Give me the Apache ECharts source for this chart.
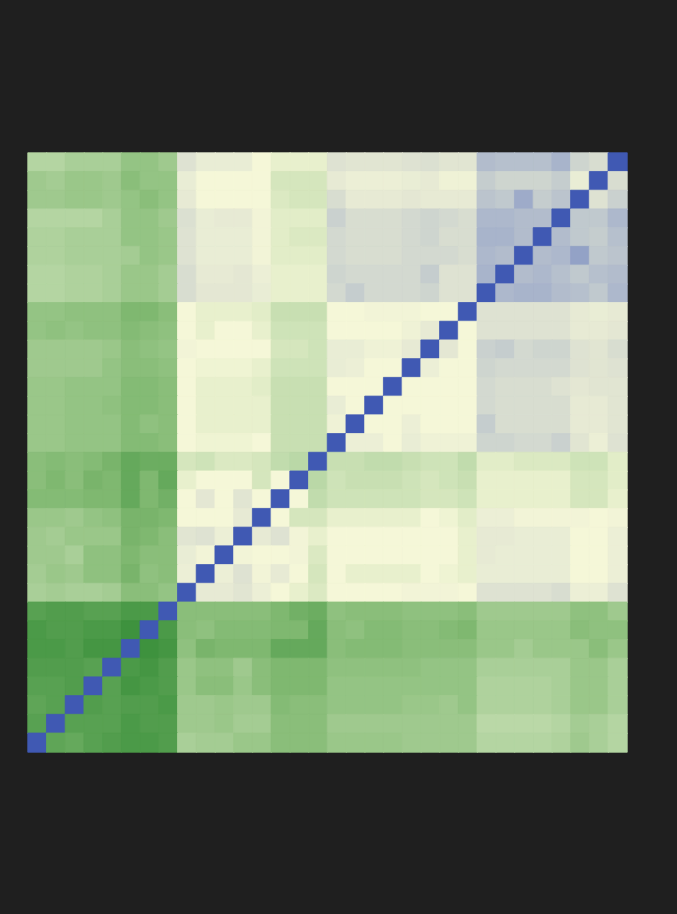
<!DOCTYPE html>
<html>
<head>
<meta charset="utf-8">
<script src="https://cdn.jsdelivr.net/npm/echarts@6/dist/echarts.min.js"></script>
<style>
html,body{margin:0;padding:0;background:#1f1f1f;}
#chart{width:677px;height:914px;}
</style>
</head>
<body>
<div id="chart"></div>
<script>
// Column / row categories (no labels shown in the chart)
var xLabels = ['1','2','3','4','5','6','7','8','9','10','11','12','13','14','15','16','17','18','19','20','21','22','23','24','25','26','27','28','29','30','31','32'];
var yLabels = ['1','2','3','4','5','6','7','8','9','10','11','12','13','14','15','16','17','18','19','20','21','22','23','24','25','26','27','28','29','30','31','32'];

// Matrix rows, listed from the top row of the picture to the bottom row
var rows = [
 [10,10,9,9,9,7,7,8,19,17,17,17,15,14,14,14, 19,18.5,18.5,18.5,19,19.5,18.5,18.5,24,23.5,23.5,23.5,25,21,20,30],
 [8,8.5,7.5,7.5,8,6,7,7,17,15,15,15,15,12.5,12.5,12.5, 17.5,16.5,16.5,16.5,17,17.5,16,16,22,21,21,21,22,17,30,20],
 [8,8,7.5,7.5,8,7,6,7,17.5,15,15,15,15,13,12.5,12.5, 20,17.5,17.5,17.5,18,17.5,17.5,17.5,23,22.5,25.5,22,23,30,19,21.5],
 [10,10,10,10,9,7,7,8,19.5,17,17.5,17.5,15.5,13.5,13.5,13.5, 21.5,20,20,20,20.5,21,20.5,20,24.5,24.5,24,24,30,22.5,22.5,24.5],
 [9.5,9.5,9,9,9,7,7,7.5,19,17,17,17,15.5,13.5,13,13, 20.5,20,20,20,20.5,21,20,20,25,25,24,30,24,22.5,22,23.5],
 [9.5,9.5,9,9,9,8.5,7,7.5,19,17,17,17,15.5,13.5,13.5,13.5, 20.5,20,20,20,20.5,20.5,20.5,20,24.5,24,30,24,24.5,26,22.5,23],
 [10,10,9.5,9.5,9,7.5,7.5,8.5,20,17.5,17.5,18,16.5,14,14,14, 21,20.5,20.5,20.5,20.5,22,19,19,25,30,24,24.5,23.5,22.5,23.5,24],
 [10,10,9.5,9.5,9,7.5,7.5,8.5,20,18,18,18,17,14,14,14, 20.5,22,20.5,20.5,20.5,21,19,19,30,24.5,25,25,24,23.5,22.5,24.5],
 [7,7,6.5,6.5,6.5,5,5,6,15,14,14,14,13.5,11.5,11.5,11.5, 15,15,15.5,15.5,15.5,15,15,30,19,19,19,19,19,17.5,17,17.5],
 [7,6.5,7,6.5,6.5,5.5,6,6.5,15,14,15,15,14,12,12,12, 15,15,15,15,16,17.5,30,15,19,19,19,19,19,17.5,17.5,18],
 [8,8,8,8,7.5,6,6.5,7,15.5,15,15,15,15,12.5,12.5,12, 17,17,16,16,17.5,30,18,15,21.5,22,20.5,21,21,19,18.5,20],
 [8,8,8,8,7,6,6,6.5,15,14.5,14.5,14.5,14,12,12,12, 17,16.5,15,15,30,16.5,15,15,21,20.5,20.5,20.5,20.5,19,18.5,19],
 [7.5,7.5,7,7,7,5.5,5.5,6,15,14,14,14,13.5,11.5,11.5,11.5, 15,15,15,30,15,15,15,15,20.5,20,20,20,19,18,18.5,18.5],
 [7.5,7.5,7,7,6.5,5.5,5.5,6,15,14,14,14,14,11.5,11.5,11.5, 17,15,30,15,15,15,15,15,20.5,20,20,20,20,17.5,17.5,18.5],
 [7.5,7.5,7,7,7,5.5,6.5,6,15,14,14,14,14,11.5,11.5,11.5, 16,30,15,15,16.5,15,15,15,22,20,20,20,20,17.5,17.5,18.5],
 [7.5,7.5,7,7,7,5.5,5.5,6,15,14.5,14.5,14.5,15,11.5,11.5,11.5, 30,16.5,16.5,15,17,16,16,16,21,21,20.5,20.5,21.5,18.5,16.5,19],
 [6,5.5,6,5.5,4.5,3,3.5,3.5,12.5,12,13,13,12.5,11,10.5,30, 11.5,11.5,11,11,11.5,12,12,11,13.5,13.5,13,13,13,12,12,13.5],
 [6,5,6,4.5,5,3,5,3,14,15,15,15,12.5,15,30,10.5, 12,11.5,11.5,11.5,12,12.5,12,11.5,14,14,14,14,14,12.5,12.5,13.5],
 [5.5,5.5,5.5,5,5,3,5,4,15,18,15,18.5,15,30,15,11, 12,12,12,12,12,12.5,12.5,12,14,14,14,14,14,12.5,12.5,14],
 [7.5,7.5,8,7,6.5,4.5,4.5,5,15,15,15,17.5,30,15,12.5,12.5, 14,14,14,14,14,15,14.5,13.5,16.5,16.5,15.5,15.5,15.5,15.5,15,15.5],
 [8,8.5,7.5,7.5,7.5,4.5,5,6,18.5,19,16.5,30,17.5,19,15.5,14, 15,15,15,15,15,15,15,14,17.5,17.5,17,17,17,15,15,16.5],
 [8,8,9,6.5,6.5,5,6,6,17,15.5,30,15.5,15,15,15.5,13, 15,15,15,15,15,15,15,14,17.5,17,17,17,17,15,15,16.5],
 [8.5,7.5,8,6.5,6.5,4.5,6.5,6,16.5,30,16.5,19,15.5,17.5,15,12.5, 15,14,14,14,14,15,14.5,14,17,17,17,17,17,15,15,16.5],
 [9,8.5,9,9,8.5,6,6,7,30,17.5,17.5,18.5,16.5,15,14,13, 15,15,15,15,15.5,15.5,15.5,15,19,19,19,19,20,16.5,16.5,19],
 [2,1.5,1.5,2,2,1,1,30,6,6,6,6,6,5,4,3.5, 6.5,6,6,6,6.5,6.5,6.5,6,8,8,8,8,8,6.5,6.5,8],
 [1,1.5,1.5,1,1,0,30,1,6,6.5,5.5,5.5,5.5,5,5,3, 6,6.5,5.5,5.5,6,6,5.5,5,7.5,7.5,7.5,7.5,7.5,6,6.5,6.5],
 [1,1,1.5,0.5,0.5,30,0,0.5,6.5,4.5,5,5,5,3,3,3, 6,5.5,5.5,5.5,6,6,6,6,7.5,7.5,8.5,7.5,7.5,7.5,6,7.5],
 [1.5,1.5,1.5,2,30,1,0.5,1.5,7.5,6.5,6.5,8,6,5,5,5, 6.5,6.5,6.5,6.5,6.5,7,7,7,9,9,9,9,9,7.5,7.5,9],
 [2,2,1.5,30,2,0.5,1,1.5,7.5,6,6,7.5,6,5,5,5, 7,7,7,7,7,7,7,7,9.5,9.5,9.5,9.5,9,7.5,7.5,9],
 [2.5,2,30,1.5,2,1.5,1.5,1,8,8,7.5,8,8,5.5,6,6, 7,7,7,7,7.5,7.5,8,7,9.5,9.5,9.5,9.5,9,7.5,7.5,9],
 [2,30,2,2,2,1,1.5,1.5,8,8,7.5,8.5,8.5,6,6,6, 8,8,8,8,8,8,8,8,10.5,10.5,10.5,10.5,10,8.5,9,10],
 [30,2.5,3,2,1.5,1,1,1.5,9,8.5,8.5,7.5,7.5,6,6,6, 7.5,7.5,7.5,7.5,8,8,8,8,10,10,10,10,9.5,8,9,10]
];

var valueMin = 0, valueMax = 30;
var palette = ['#3e923e', '#7fb870', '#b4d5a2', '#f5f7d8', '#d8ddd0', '#a8b4cb', '#4059b3'];

function colorOf(v) {
  return echarts.color.lerp((v - valueMin) / (valueMax - valueMin), palette);
}

var data = [];
for (var r = 0; r < rows.length; r++) {
  for (var c = 0; c < rows[r].length; c++) {
    var col = colorOf(rows[r][c]);
    data.push({
      value: [c, rows.length - 1 - r, rows[r][c]],
      itemStyle: {color: col, borderColor: col, borderWidth: 0.8}
    });
  }
}

var chart = echarts.init(document.getElementById('chart'), null, {renderer: 'canvas'});
chart.setOption({
  backgroundColor: '#1f1f1f',
  animation: false,
  grid: {left: 28, top: 153, width: 599, height: 599},
  xAxis: {type: 'category', data: xLabels, show: false},
  yAxis: {type: 'category', data: yLabels, show: false},
  series: [{
    type: 'heatmap',
    data: data,
    emphasis: {disabled: true}
  }]
});
</script>
</body>
</html>
